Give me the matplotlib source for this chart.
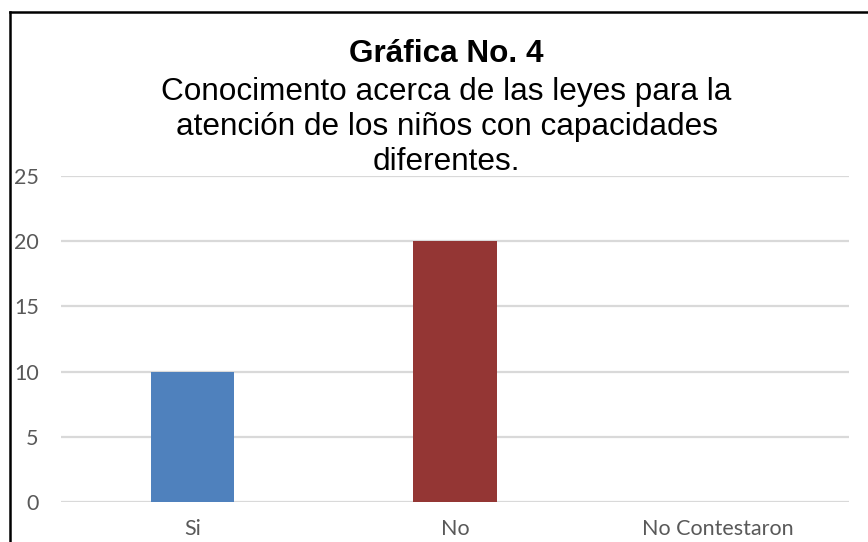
import matplotlib.pyplot as plt
from matplotlib.lines import Line2D

categorias = ["Si", "No", "No Contestaron"]
valores = [10, 20, 0]
colores = ["#4F81BD", "#943634", "#9BBB59"]
titulo = "Gráfica No. 4"
subtitulo = ["Conocimento acerca de las leyes para la",
             "atención de los niños con capacidades",
             "diferentes."]

W, H = 868, 542
fig = plt.figure(figsize=(W / 100, H / 100), dpi=100)
ax = fig.add_axes([61 / W, 1 - 502 / H, (849 - 61) / W, (502 - 176) / H])

x = list(range(len(categorias)))
ax.bar(x, valores, width=0.316, color=colores, zorder=3)
ax.set_xlim(-0.5, 2.5)
ax.set_ylim(0, 25)
ax.set_yticks([0, 5, 10, 15, 20, 25])
ax.set_xticks(x)
ax.set_xticklabels(categorias)
ax.grid(axis="y", color="#D9D9D9", linewidth=1.6, zorder=0)
for s in ax.spines.values():
    s.set_visible(False)
ax.tick_params(axis="both", length=0, labelsize=15.5, labelcolor="#595959")
ax.tick_params(axis="y", pad=16)
ax.tick_params(axis="x", pad=12)
for lab in ax.get_xticklabels() + ax.get_yticklabels():
    lab.set_fontfamily("Lato")

# titulo
cx = 446.5 / W
fig.text(cx, 1 - 62 / H, titulo, ha="center", va="baseline",
         fontsize=22.7, fontweight="bold", family="Liberation Sans")
for i, linea in enumerate(subtitulo):
    fig.text(cx, 1 - (100 + 35 * i) / H, linea, ha="center", va="baseline",
             fontsize=22.7, family="Liberation Sans")

# marco
fig.add_artist(Line2D([10 / W, 10 / W], [0, 1 - 12 / H], color="black", linewidth=1.8))
fig.add_artist(Line2D([10 / W, 1], [1 - 12 / H, 1 - 12 / H], color="black", linewidth=1.8))

fig.savefig("out.png", dpi=100)
